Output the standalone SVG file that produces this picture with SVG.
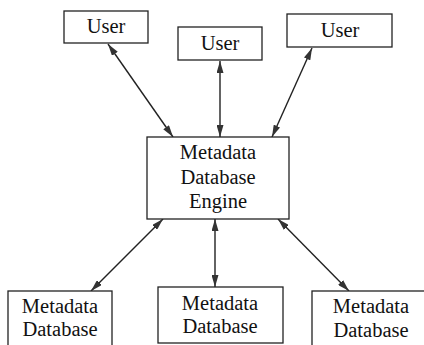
<svg xmlns="http://www.w3.org/2000/svg" width="424" height="345" viewBox="0 0 424 345">
<style>
.box{fill:#fff;stroke:#222;stroke-width:1.3}
.t{font-family:"Liberation Serif","Times New Roman",serif;font-size:20.5px;fill:#111;text-anchor:middle}
.c{stroke:#222;stroke-width:1.4;fill:none;marker-start:url(#a);marker-end:url(#a)}
</style>
<defs>
<marker id="a" viewBox="0 0 12 7" refX="12" refY="3.5" markerWidth="12" markerHeight="7" markerUnits="userSpaceOnUse" orient="auto-start-reverse">
<path d="M0,0 L12,3.5 L0,7 Z" fill="#333"/>
</marker>
</defs>
<rect width="424" height="345" fill="#fff"/>
<g id="connectors">
<line class="c" x1="108" y1="44" x2="173" y2="137"/>
<line class="c" x1="220" y1="61" x2="220" y2="137"/>
<line class="c" x1="312" y1="48" x2="272" y2="137"/>
<line class="c" x1="163" y1="219" x2="91" y2="291"/>
<line class="c" x1="215" y1="219" x2="215" y2="287"/>
<line class="c" x1="278" y1="219" x2="349" y2="291"/>
</g>
<g id="user1"><rect class="box" x="64" y="11" width="84" height="32"/><text class="t" x="106" y="33">User</text></g>
<g id="user2"><rect class="box" x="178" y="27" width="84" height="33"/><text class="t" x="220" y="50">User</text></g>
<g id="user3"><rect class="box" x="287" y="14" width="105" height="33"/><text class="t" x="340" y="37">User</text></g>
<g id="engine"><rect class="box" x="147" y="137" width="142" height="82"/>
<text class="t" x="218" y="159">Metadata</text><text class="t" x="218" y="184">Database</text><text class="t" x="218" y="208">Engine</text></g>
<g id="db1"><rect class="box" x="8" y="291" width="104" height="70"/>
<text class="t" x="60" y="313">Metadata</text><text class="t" x="60" y="336">Database</text></g>
<g id="db2"><rect class="box" x="158" y="287" width="125" height="56"/>
<text class="t" x="220" y="310">Metadata</text><text class="t" x="220" y="333">Database</text></g>
<g id="db3"><rect class="box" x="312" y="291" width="120" height="70"/>
<text class="t" x="371" y="313">Metadata</text><text class="t" x="371" y="337">Database</text></g>
</svg>
